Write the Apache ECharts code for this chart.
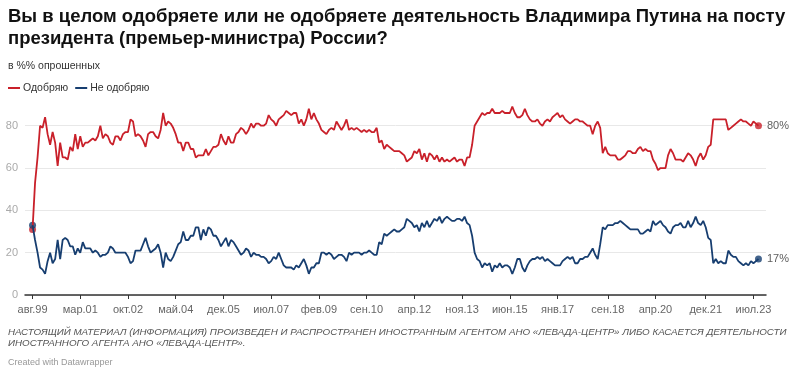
<!DOCTYPE html>
<html>
<head>
<meta charset="utf-8">
<script src="https://cdn.jsdelivr.net/npm/echarts@6/dist/echarts.min.js"></script>
<style>
  html, body { margin: 0; padding: 0; background: #fff; }
  #chart { width: 800px; height: 377px; }
</style>
</head>
<body>
<div id="chart"></div>
<script>
// monthly Levada data, Aug 1999 .. Sep 2023
const approve = [
  31, 53, 65, 80, 79,                                 // 1999 (aug-dec)
  84, 76, 71, 77, 72, 61, 72, 65, 65, 64, 70, 68,     // 2000
  76, 69, 75, 70, 72, 72, 73, 74, 73, 75, 80, 74,     // 2001
  76, 75, 72, 71, 75, 75, 73, 76, 77, 77, 83, 82,     // 2002
  75, 76, 75, 73, 70, 76, 77, 77, 75, 74, 78, 86,     // 2003
  80, 82, 81, 79, 76, 72, 72, 68, 72, 72, 69, 69,     // 2004
  65, 66, 66, 66, 69, 66, 68, 70, 70, 71, 76, 73,     // 2005
  71, 75, 72, 72, 76, 77, 79, 78, 76, 78, 81, 79,     // 2006
  81, 81, 80, 80, 81, 85, 83, 82, 80, 83, 84, 85,     // 2007
  87, 86, 85, 86, 86, 81, 83, 80, 83, 88, 83, 86,     // 2008
  83, 81, 78, 77, 76, 78, 79, 78, 82, 80, 78, 80,     // 2009
  83, 78, 79, 78, 79, 78, 77, 78, 77, 78, 77, 77,     // 2010
  79, 72, 73, 69, 71, 70, 69, 68, 68, 68, 67, 66,     // 2011
  63, 64, 65, 68, 67, 69, 64, 67, 63, 67, 66, 64,     // 2012
  66, 63, 65, 63, 64, 63, 64, 65, 63, 64, 64, 61,     // 2013
  65, 65, 71, 80, 82, 84, 86, 85, 86, 86, 88, 86,     // 2014
  86, 86, 87, 86, 86, 86, 89, 86, 84, 84, 85, 88,     // 2015
  85, 83, 82, 82, 83, 81, 80, 82, 83, 82, 84, 85,     // 2016
  86, 84, 85, 83, 82, 81, 82, 83, 83, 82, 82, 81,     // 2017
  80, 80, 76, 80, 82, 79, 67, 70, 67, 66, 66, 66,     // 2018
  64, 64, 65, 66, 68, 68, 67, 67, 69, 70, 68, 69,     // 2019
  68, 68, 64, 62, 59, 60, 60, 60, 66, 69, 67, 64,     // 2020
  64, 64, 63, 65, 67, 66, 64, 61, 65, 67, 64, 66,     // 2021
  70, 71, 83, 83, 83, 83, 83, 83, 78, 79, 80, 81,     // 2022
  82, 83, 82, 82, 81, 80, 82, 81, 80                  // 2023 (jan-sep)
];
const disapprove = [
  33, 26, 20, 13, 12,
  10, 16, 20, 15, 17, 26, 17, 26, 27, 26, 23, 23,
  19, 22, 20, 25, 22, 22, 22, 20, 21, 20, 18, 19,
  19, 20, 23, 22, 20, 20, 20, 20, 20, 18, 15, 16,
  21, 21, 21, 24, 27, 23, 20, 21, 22, 24, 20, 13,
  20, 17, 16, 18, 21, 24, 25, 30, 26, 26, 28, 28,
  32, 32, 26, 31, 28, 32, 31, 28, 28, 26, 23, 25,
  27, 23, 26, 25, 23, 21, 19, 20, 22, 21, 18, 20,
  19, 19, 18, 18, 17, 15, 16, 18, 17, 20, 17, 14,
  13, 13, 13, 12, 14, 13, 15, 17, 14, 10, 13, 13,
  15, 15, 20, 20, 19, 20, 19, 17, 18, 19, 19, 18,
  16, 20, 19, 20, 20, 20, 19, 20, 20, 21, 20, 19,
  19, 25, 24, 29, 28, 29, 30, 31, 30, 30, 31, 32,
  36, 35, 34, 32, 33, 30, 34, 32, 35, 32, 34, 36,
  35, 37, 34, 36, 37, 36, 35, 35, 36, 36, 35, 37,
  34, 33, 28, 20, 17, 16, 13, 15, 14, 15, 11, 14,
  13, 15, 13, 14, 14, 13, 10, 13, 17, 17, 13, 11,
  14, 16, 17, 17, 18, 17, 18, 16, 17, 16, 15, 14,
  14, 14, 16, 17, 18, 17, 18, 15, 15, 17, 17, 18,
  18, 20, 22, 19, 17, 24, 32, 31, 33, 33, 33, 34,
  34, 35, 34, 33, 32, 31, 31, 31, 31, 29, 29, 30,
  31, 30, 35, 33, 34, 35, 33, 32, 30, 29, 32, 33,
  33, 34, 32, 32, 35, 32, 34, 37, 34, 33, 35, 32,
  27, 26, 15, 17, 15, 16, 15, 15, 21, 19, 18, 18,
  16, 15, 14, 15, 14, 16, 15, 16, 17
];
const monthNames = ['янв', 'фев', 'мар', 'апр', 'май', 'июн', 'июл', 'авг', 'сен', 'окт', 'ноя', 'дек'];
const tickLabels = ['авг.99', 'мар.01', 'окт.02', 'май.04', 'дек.05', 'июл.07', 'фев.09', 'сен.10',
  'апр.12', 'ноя.13', 'июн.15', 'янв.17', 'сен.18', 'апр.20', 'дек.21', 'июл.23'];
const yTicks = [0, 20, 40, 60, 80];

// axis runs a little before aug.99 and after sep.23 (may.99 .. dec.23)
const lead = 3;
let categories = [];
for (let i = 0; i < 296; i++) {
  let mi = 4 + i;
  let yy = 1999 + Math.floor(mi / 12);
  categories.push(monthNames[mi % 12] + '.' + String(yy).slice(2));
}

const RED = '#c9202a';
const BLUE = '#173e70';

function toPairs(arr) {
  return arr.map((v, i) => [i + lead, v]);
}
function ends(arr) {
  let last = arr.length - 1;
  return [
    { value: [lead, arr[0]] },
    { value: [last + lead, arr[last]], label: { show: true } }
  ];
}

const chart = echarts.init(document.getElementById('chart'));
const font = 'Liberation Sans, Arial, sans-serif';
const tickFn = (idx, val) => tickLabels.includes(val);

chart.setOption({
  animation: false,
  textStyle: { fontFamily: font },
  title: [
    {
      text: 'Вы в целом одобряете или не одобряете деятельность Владимира Путина на посту\nпрезидента (премьер-министра) России?',
      left: 8, top: 6, padding: 0,
      textStyle: { fontSize: 18.5, fontWeight: 'bold', color: '#111', lineHeight: 22, fontFamily: font }
    },
    {
      text: 'в %% опрошенных',
      left: 8, top: 60, padding: 0,
      textStyle: { fontSize: 10.5, fontWeight: 'normal', color: '#333', lineHeight: 12, fontFamily: font }
    },
    {
      text: 'НАСТОЯЩИЙ МАТЕРИАЛ (ИНФОРМАЦИЯ) ПРОИЗВЕДЕН И РАСПРОСТРАНЕН ИНОСТРАННЫМ АГЕНТОМ АНО «ЛЕВАДА-ЦЕНТР» ЛИБО КАСАЕТСЯ ДЕЯТЕЛЬНОСТИ\nИНОСТРАННОГО АГЕНТА АНО «ЛЕВАДА-ЦЕНТР».',
      left: 8, top: 327, padding: 0,
      textStyle: { fontSize: 9.8, fontWeight: 'normal', fontStyle: 'italic', color: '#555', lineHeight: 11, fontFamily: font }
    },
    {
      text: 'Created with Datawrapper',
      left: 8, top: 357, padding: 0,
      textStyle: { fontSize: 9, fontWeight: 'normal', color: '#999', lineHeight: 11, fontFamily: font }
    }
  ],
  legend: {
    data: ['Одобряю', 'Не одобряю'],
    left: 8, top: 82, padding: 0,
    icon: 'rect',
    itemWidth: 12, itemHeight: 2, itemGap: 7,
    textStyle: { fontSize: 10.5, color: '#333', padding: [0, 0, 0, -2], lineHeight: 12 }
  },
  grid: { left: 25, right: 34, top: 125.7, bottom: 82 },
  xAxis: {
    type: 'category',
    data: categories,
    boundaryGap: false,
    axisLine: { show: true, lineStyle: { color: '#333', width: 1.5 } },
    axisTick: { show: true, interval: tickFn, length: 4, lineStyle: { color: '#333', width: 1 } },
    axisLabel: { interval: tickFn, color: '#666', fontSize: 11, margin: 9 },
    splitLine: { show: false }
  },
  yAxis: {
    type: 'value',
    min: yTicks[0], max: yTicks[yTicks.length - 1], interval: 20,
    axisLine: { show: false },
    axisTick: { show: false },
    axisLabel: { color: '#aaa', fontSize: 11, margin: 7 },
    splitLine: { lineStyle: { color: '#e8e8e8', width: 1 } }
  },
  series: [
    {
      name: 'Одобряю', type: 'line', data: toPairs(approve),
      symbol: 'none', clip: false,
      lineStyle: { color: RED, width: 1.8 }, itemStyle: { color: RED }
    },
    {
      name: 'Не одобряю', type: 'line', data: toPairs(disapprove),
      symbol: 'none', clip: false,
      lineStyle: { color: BLUE, width: 1.8 }, itemStyle: { color: BLUE }
    },
    {
      type: 'scatter', data: ends(approve), symbolSize: 7, clip: false,
      itemStyle: { color: RED },
      label: { show: false, position: 'right', distance: 5, color: '#333', fontSize: 11,
        formatter: p => p.value[1] + '%' }
    },
    {
      type: 'scatter', data: ends(disapprove), symbolSize: 7, clip: false,
      itemStyle: { color: BLUE },
      label: { show: false, position: 'right', distance: 5, color: '#333', fontSize: 11,
        formatter: p => p.value[1] + '%' }
    }
  ]
});
</script>
</body>
</html>
